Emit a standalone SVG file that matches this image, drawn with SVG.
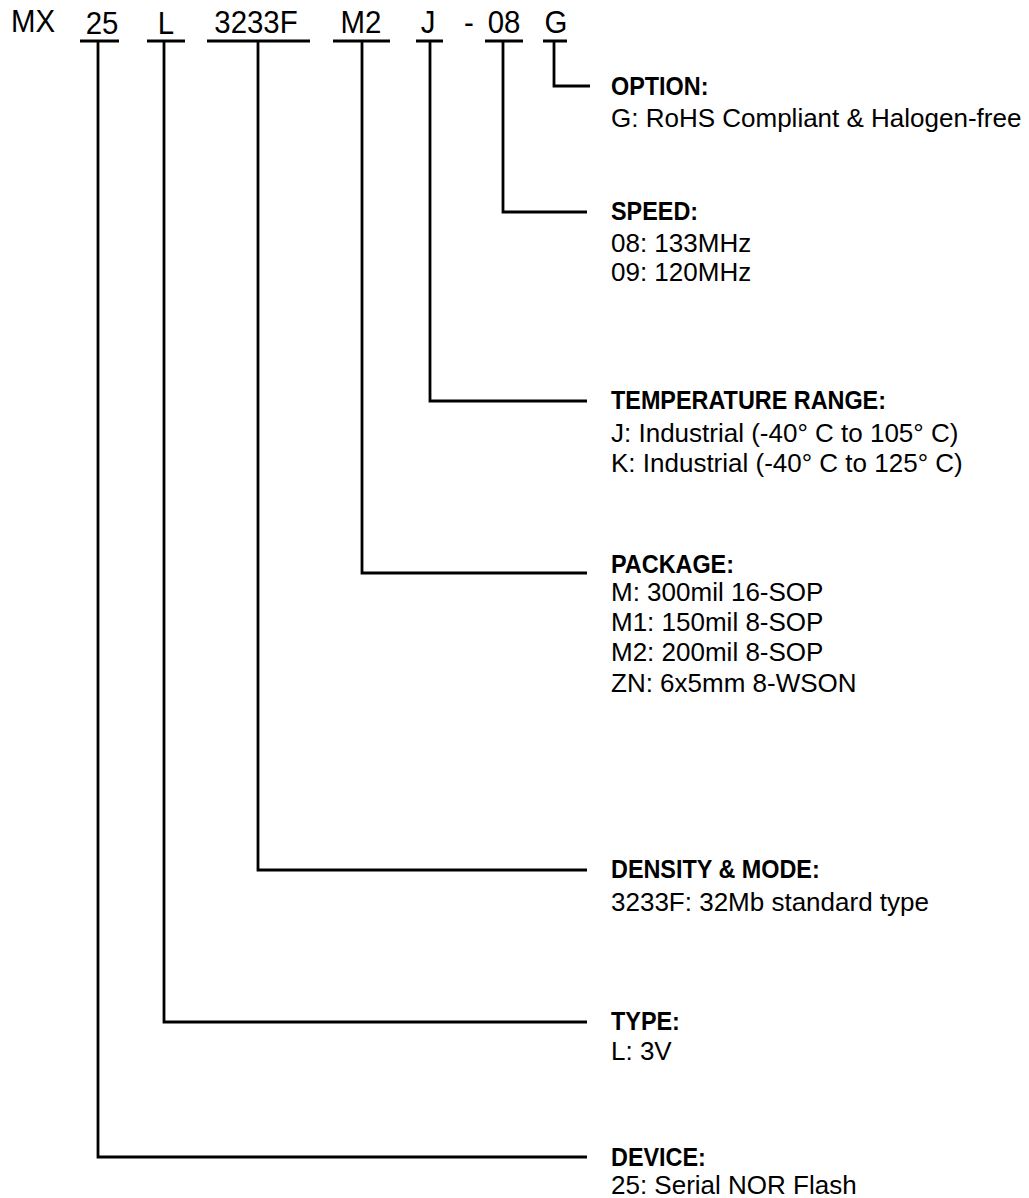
<svg xmlns="http://www.w3.org/2000/svg" width="1029" height="1198" viewBox="0 0 1029 1198">
<style>
text{font-family:"Liberation Sans",Arial,sans-serif;fill:#000}
.hd{font-size:32px;text-anchor:middle}
.lb{font-size:26px;font-weight:bold}
.it{font-size:26px}
.ln{stroke:#000;stroke-width:2.8;fill:none}
</style>
<rect width="1029" height="1198" fill="#fff"/>
<g id="header">
<text class="hd" transform="translate(33 32) scale(0.92 1)">MX</text>
<text class="hd" transform="translate(102 34) scale(0.92 1)">25</text>
<text class="hd" transform="translate(166 34) scale(0.92 1)">L</text>
<text class="hd" transform="translate(256 33) scale(0.92 1)">3233F</text>
<text class="hd" transform="translate(361 33) scale(0.92 1)">M2</text>
<text class="hd" transform="translate(428 33) scale(0.92 1)">J</text>
<text class="hd" transform="translate(469 33) scale(0.92 1)">-</text>
<text class="hd" transform="translate(504 33) scale(0.92 1)">08</text>
<text class="hd" transform="translate(556 33) scale(0.92 1)">G</text>
</g>
<g id="connectors">
<path class="ln" d="M80 41H119M98 41V1157H587"/>
<path class="ln" d="M147 41H185M164 41V1022H587"/>
<path class="ln" d="M207 41H310M258 41V870H587"/>
<path class="ln" d="M333 41H390M362 41V573H587"/>
<path class="ln" d="M416 41H443M430 41V401H587"/>
<path class="ln" d="M485 41H523M503 41V212H587"/>
<path class="ln" d="M543 41H567M554 41V86H590"/>
</g>
<g id="option">
<text class="lb" transform="translate(611 95) scale(0.9 1)">OPTION:</text>
<text class="it" x="611" y="127">G: RoHS Compliant &amp; Halogen-free</text>
</g>
<g id="speed">
<text class="lb" transform="translate(611 220) scale(0.9 1)">SPEED:</text>
<text class="it" x="611" y="252">08: 133MHz</text>
<text class="it" x="611" y="281">09: 120MHz</text>
</g>
<g id="temperature">
<text class="lb" transform="translate(611 409) scale(0.9 1)">TEMPERATURE RANGE:</text>
<text class="it" x="611" y="442">J: Industrial (-40° C to 105° C)</text>
<text class="it" x="611" y="472">K: Industrial (-40° C to 125° C)</text>
</g>
<g id="package">
<text class="lb" transform="translate(611 573) scale(0.9 1)">PACKAGE:</text>
<text class="it" x="611" y="601">M: 300mil 16-SOP</text>
<text class="it" x="611" y="631">M1: 150mil 8-SOP</text>
<text class="it" x="611" y="661">M2: 200mil 8-SOP</text>
<text class="it" x="611" y="692">ZN: 6x5mm 8-WSON</text>
</g>
<g id="density">
<text class="lb" transform="translate(611 878) scale(0.9 1)">DENSITY &amp; MODE:</text>
<text class="it" x="611" y="911">3233F: 32Mb standard type</text>
</g>
<g id="type">
<text class="lb" transform="translate(611 1030) scale(0.9 1)">TYPE:</text>
<text class="it" x="611" y="1060">L: 3V</text>
</g>
<g id="device">
<text class="lb" transform="translate(611 1166) scale(0.9 1)">DEVICE:</text>
<text class="it" x="611" y="1194">25: Serial NOR Flash</text>
</g>
</svg>
